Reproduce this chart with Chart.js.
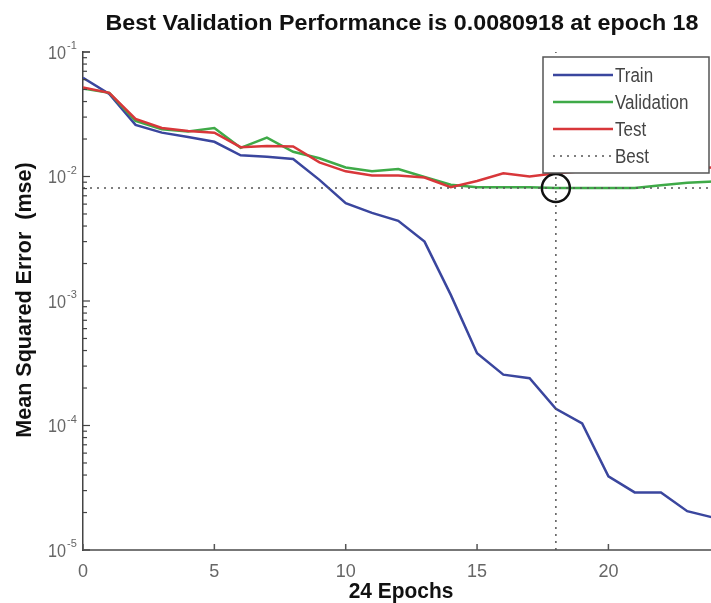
<!DOCTYPE html>
<html>
<head>
<meta charset="utf-8">
<script src="https://cdn.jsdelivr.net/npm/chart.js@4/dist/chart.umd.min.js"></script>
<style>
  html, body { margin: 0; padding: 0; background: #fff; overflow: hidden; }
  #wrap { width: 730px; height: 603px; }
</style>
</head>
<body>
<div id="wrap"><canvas id="perf" width="730" height="603"></canvas></div>
<script>
// epochs 0..24, mse per epoch
var epochs = [0,1,2,3,4,5,6,7,8,9,10,11,12,13,14,15,16,17,18,19,20,21,22,23,24];
var trainMse = [0.062,0.046,0.026,0.0225,0.0208,0.019,0.0148,0.0144,0.0138,0.0094,0.0061,0.0051,0.0044,0.0030,0.00112,0.00038,0.000256,0.00024,0.000136,0.000104,0.000039,0.000029,0.000029,0.0000205,0.0000182];
var valMse   = [0.051,0.047,0.028,0.024,0.023,0.0245,0.017,0.0205,0.0158,0.014,0.0118,0.011,0.0115,0.0099,0.0086,0.0082,0.0082,0.0082,0.0080918,0.0081,0.0081,0.0081,0.0085,0.0089,0.0091];
var testMse  = [0.052,0.047,0.029,0.0245,0.0232,0.0225,0.0172,0.0176,0.0174,0.013,0.011,0.0102,0.0102,0.0098,0.0082,0.0092,0.0106,0.0100,0.0106,0.011,0.011,0.0113,0.0115,0.0117,0.0118];
var bestEpoch = 18;
var bestPerf = 0.0080918;
var yDecades = [1,2,3,4,5];
var xTicks = [0,5,10,15,20];
var legendOrder = ['Train', 'Validation', 'Test', 'Best'];

function pts(arr){ return arr.map(function(v, i){ return {x: epochs[i], y: v}; }); }

var axisFont = '"Liberation Sans Narrow", "Liberation Sans", Arial, sans-serif';
var boldFont = 'bold 22px "Liberation Sans", Arial, sans-serif';

// squeeze text a little so it looks like the narrow matlab font
function narrowText(ctx, txt, x, y, sx){
  ctx.save(); ctx.translate(x, y); ctx.scale(sx, 1); ctx.fillText(txt, 0, 0); ctx.restore();
}

var matlabBits = {
  id: 'matlabBits',
  afterDatasetsDraw: function(chart){
    var ctx = chart.ctx, xs = chart.scales.x, ys = chart.scales.y, a = chart.chartArea;
    ctx.save();
    // inward ticks on the y axis
    ctx.strokeStyle = '#444'; ctx.lineWidth = 1.2;
    yDecades.forEach(function(k){
      for (var m = 1; m <= 9; m++){
        var v = m * Math.pow(10, -k);
        if (v > 0.1 + 1e-12) continue;
        var y = ys.getPixelForValue(v);
        ctx.beginPath(); ctx.moveTo(a.left, y); ctx.lineTo(a.left + (m === 1 ? 7 : 4), y); ctx.stroke();
      }
    });
    var yTop = ys.getPixelForValue(0.1);
    ctx.beginPath(); ctx.moveTo(a.left, yTop); ctx.lineTo(a.left + 7, yTop); ctx.stroke();
    // inward ticks on the x axis
    ctx.strokeStyle = '#555'; ctx.lineWidth = 1.5;
    xTicks.forEach(function(t){
      var x = xs.getPixelForValue(t);
      ctx.beginPath(); ctx.moveTo(x, a.bottom); ctx.lineTo(x, a.bottom - 6); ctx.stroke();
    });
    // y tick labels 10^-k
    ctx.fillStyle = '#666';
    yDecades.forEach(function(k){
      var y = ys.getPixelForValue(Math.pow(10, -k));
      ctx.font = '18px ' + axisFont;
      ctx.textAlign = 'right'; ctx.textBaseline = 'middle';
      narrowText(ctx, '10', 66, y + 2, 0.9);
      ctx.font = '11px ' + axisFont;
      ctx.textAlign = 'left';
      ctx.fillText('-' + k, 67, y - 6);
    });

    // legend box
    var bx = 543, by = 57, bw = 166, bh = 116;
    ctx.fillStyle = '#fff';
    ctx.fillRect(bx, by, bw, bh);
    ctx.strokeStyle = '#555'; ctx.lineWidth = 1.5;
    ctx.strokeRect(bx, by, bw, bh);
    var rows = [75, 102, 129, 156];
    legendOrder.forEach(function(name, i){
      var d = chart.data.datasets.filter(function(s){ return s.label === name; })[0];
      ctx.strokeStyle = d.borderColor; ctx.lineWidth = d.borderDash ? 1.5 : 2.5;
      ctx.setLineDash(d.borderDash || []);
      ctx.beginPath(); ctx.moveTo(553, rows[i]); ctx.lineTo(613, rows[i]); ctx.stroke();
      ctx.setLineDash([]);
      ctx.fillStyle = '#444';
      ctx.font = '20px ' + axisFont;
      ctx.textAlign = 'left'; ctx.textBaseline = 'middle';
      narrowText(ctx, d.label, 615, rows[i] + 1, 0.85);
    });

    // titles
    ctx.fillStyle = '#111';
    ctx.textAlign = 'center'; ctx.textBaseline = 'middle';
    ctx.font = boldFont;
    var title = 'Best Validation Performance is 0.0080918 at epoch 18';
    narrowText(ctx, title, 402, 24, 593 / ctx.measureText(title).width);
    narrowText(ctx, '24 Epochs', 401, 592, 0.95);
    ctx.translate(25, 300);
    ctx.rotate(-Math.PI / 2);
    narrowText(ctx, 'Mean Squared Error  (mse)', 0, 0, 0.98);
    ctx.restore();
  }
};

new Chart(document.getElementById('perf').getContext('2d'), {
  type: 'line',
  data: {
    datasets: [
      {label: 'Best circle', data: [{x: bestEpoch, y: bestPerf}], showLine: false,
       pointRadius: 14, pointBorderWidth: 2.5, pointBorderColor: '#111', pointBackgroundColor: 'rgba(0,0,0,0)', order: 0},
      {label: 'Best', data: [{x: bestEpoch, y: 1e-5}, {x: bestEpoch, y: 0.1}],
       borderColor: '#555', borderWidth: 1.5, borderDash: [2, 5], pointRadius: 0, order: 1},
      {label: 'Best h', data: [{x: 0, y: bestPerf}, {x: 24, y: bestPerf}],
       borderColor: '#555', borderWidth: 1.5, borderDash: [2, 5], pointRadius: 0, order: 1},
      {label: 'Test', data: pts(testMse), borderColor: '#d8373a', borderWidth: 2.5, pointRadius: 0, order: 2},
      {label: 'Validation', data: pts(valMse), borderColor: '#3faa48', borderWidth: 2.5, pointRadius: 0, order: 3},
      {label: 'Train', data: pts(trainMse), borderColor: '#3a469e', borderWidth: 2.5, pointRadius: 0, order: 4}
    ]
  },
  options: {
    responsive: false,
    animation: false,
    layout: {padding: {left: 0, top: 52, right: 11, bottom: 0}},
    plugins: {legend: {display: false}, title: {display: false}, tooltip: {enabled: false}},
    scales: {
      x: {
        type: 'linear', min: 0, max: 24,
        grid: {display: false},
        border: {display: true, color: '#777', width: 2},
        afterBuildTicks: function(s){ s.ticks = xTicks.map(function(v){ return {value: v}; }); },
        ticks: {color: '#666', padding: 3, maxRotation: 0, font: {size: 18, family: axisFont}},
        afterFit: function(s){ s.height = 53; }
      },
      y: {
        type: 'logarithmic', min: 1e-5, max: 1e-1,
        grid: {display: false},
        border: {display: true, color: '#444', width: 1.5},
        ticks: {display: false},
        afterFit: function(s){ s.width = 83; }
      }
    }
  },
  plugins: [matlabBits]
});
</script>
</body>
</html>
